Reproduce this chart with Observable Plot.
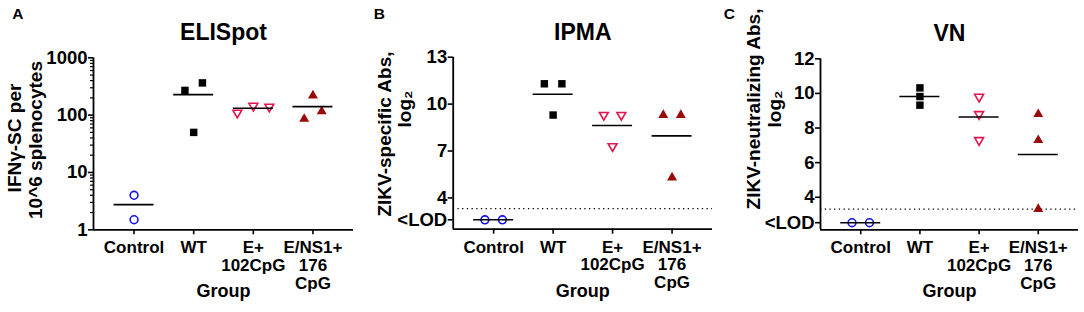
<!DOCTYPE html>
<html><head><meta charset="utf-8">
<script src="https://cdn.jsdelivr.net/npm/d3@7"></script>
<script src="https://cdn.jsdelivr.net/npm/@observablehq/plot@0.6"></script>
<style>
html,body{margin:0;padding:0;background:#fff;}
#chart{display:flex;width:1084px;height:312px;overflow:hidden;}
.panel{position:relative;height:312px;}
.panel svg{display:block;}
#chart svg text{font-family:"Liberation Sans",Arial,Helvetica,sans-serif;font-weight:700;}
.ylab{position:absolute;white-space:nowrap;font-family:"Liberation Sans",Arial,Helvetica,sans-serif;
  font-weight:700;font-size:19px;line-height:19px;color:#000;transform-origin:0 0;
  transform:rotate(-90deg) translate(-50%,-16px);}
</style></head><body><div id="chart"></div>
<script>
// ---- categories / tick labels ----
const groupLabels = ["Control", "WT", "E+\n102CpG", "E/NS1+\n176\nCpG"];
const panelLetters = ["A", "B", "C"];
const panelTitles = ["ELISpot", "IPMA", "VN"];
const yLabelA = ["IFN\u03b3-SC per", "10^6 splenocytes"];
const yLabelB = ["ZIKV-specific Abs,", "log\u2082"];
const yLabelC = ["ZIKV-neutralizing Abs,", "log\u2082"];
const xLabel = "Group";

// ---- A: ELISpot (log scale) ----
const elispotTicks = [1, 10, 100, 1000];
const elispotControl = [4.0, 1.5];
const elispotWT = [270, 365, 50];
const elispotE = [110, 145, 140];
const elispotENS1 = [86, 220, 116];

// ---- B: IPMA (log2 titres) ----
const ipmaTicks = [4, 7, 10, 13];
const ipmaLodPos = 2.6;      // "<LOD" tick position
const ipmaLod = 3.32;        // dotted limit of detection
const ipmaControl = [2.6, 2.6];
const ipmaWT = [11.3, 11.3, 9.3];
const ipmaE = [9.3, 9.3, 7.3];
const ipmaENS1 = [9.3, 9.3, 5.3];

// ---- C: VN (log2 titres) ----
const vnTicks = [4, 6, 8, 10, 12];
const vnLodPos = 2.53;
const vnLod = 3.32;
const vnControl = [2.53, 2.53];
const vnWT = [10.32, 9.82, 9.32];
const vnE = [9.8, 8.8, 7.3];
const vnENS1 = [8.8, 7.3, 3.32];

// ---- styling ----
const H = 312;
const XDOM = [-0.68, 3.68];
const blue = "#1414ee", pink = "#e3164c", dred = "#990a0a";
const triDown = {
  draw(ctx, size) {
    const y = -Math.sqrt(size / (3 * Math.sqrt(3)));
    ctx.moveTo(0, -2 * y);
    ctx.lineTo(-Math.sqrt(3) * y, y);
    ctx.lineTo(Math.sqrt(3) * y, y);
    ctx.closePath();
  }
};
const groupStyles = [
  {symbol: "circle", fill: "none", stroke: blue, r: 3.9, strokeWidth: 1.6},
  {symbol: "square", fill: "black", stroke: "none", r: 4.2},
  {symbol: triDown, fill: "none", stroke: pink, r: 3.3, strokeWidth: 1.6},
  {symbol: "triangle", fill: dred, stroke: "none", r: 3.7}
];

function makePanel(cfg) {
  const {width, ml, mr, mt, mb, ytype, ydomain, series, ticks, tickFormat, minor, lod,
         letter, title, ylines} = cfg;
  const frameW = width - ml - mr;
  const step = frameW / (XDOM[1] - XDOM[0]);
  const ypx = (ytype === "log" ? d3.scaleLog() : d3.scaleLinear()).domain(ydomain).range([H - mb, mt]);
  // rows + GraphPad-like horizontal spreading of overlapping points
  const rows = [];
  series.forEach((vals, g) => {
    const pts = vals.map((v, k) => ({g, v, k, py: ypx(v), off: 0}));
    const order = pts.slice().sort((a, b) => a.py - b.py);
    const clusters = [];
    order.forEach((p, i) => {
      if (i > 0 && Math.abs(p.py - order[i - 1].py) < 8.2) clusters[clusters.length - 1].push(p);
      else clusters.push([p]);
    });
    clusters.forEach(c => {
      c.sort((a, b) => a.k - b.k);
      const sp = c.length === 2 ? 17.5 : 16;
      c.forEach((p, i) => p.off = (i - (c.length - 1) / 2) * sp);
    });
    pts.forEach(p => rows.push({...p, x: g + p.off / step}));
  });
  const means = series.map((vals, g) => ({g, mean: d3.mean(vals)}));
  const hw = 20 / step;
  const marks = [];
  if (minor) marks.push(Plot.axisY(minor, {tickSize: 3, tickFormat: () => "", label: null, strokeWidth: 1.2}));
  marks.push(Plot.axisY(ticks, {tickSize: 5, tickPadding: 1, tickFormat, label: null, strokeWidth: 1.6, fontSize: 18.5}));
  marks.push(Plot.axisX([0, 1, 2, 3], {tickSize: 5, tickPadding: 6, tickFormat: i => groupLabels[i],
    label: null, strokeWidth: 1.6, fontSize: 17, lineHeight: 1.04}));
  if (lod != null) marks.push(Plot.ruleY([lod], {stroke: "black", strokeWidth: 1.3, strokeDasharray: "1.3,3.4"}));
  marks.push(Plot.ruleY([ydomain[0]], {stroke: "black", strokeWidth: 1.8}));
  marks.push(Plot.ruleX([XDOM[0]], {stroke: "black", strokeWidth: 1.8}));
  groupStyles.forEach((s, g) => {
    marks.push(Plot.dot(rows.filter(d => d.g === g), {x: "x", y: "v", ...s}));
  });
  marks.push(Plot.ruleY(means, {y: "mean", x1: d => d.g - hw, x2: d => d.g + hw, stroke: "black", strokeWidth: 1.6}));
  // texts
  marks.push(Plot.text([title], {frameAnchor: "top", dy: -17.5, lineAnchor: "bottom", fontSize: 23}));
  marks.push(Plot.text([letter], {frameAnchor: "top-left", textAnchor: "start", lineAnchor: "bottom",
    dx: cfg.letterX - ml, dy: 18.5 - mt, fontSize: 15.5}));
  marks.push(Plot.text([xLabel], {frameAnchor: "bottom", lineAnchor: "bottom", dy: 296 - (H - mb), fontSize: 18}));
  const svg = Plot.plot({
    width, height: H, marginLeft: ml, marginRight: mr, marginTop: mt, marginBottom: mb,
    x: {type: "linear", domain: XDOM},
    y: {type: ytype, domain: ydomain},
    style: {fontFamily: "'Liberation Sans', Arial, sans-serif", fontWeight: "bold", fontSize: "17px",
      color: "black", background: "white", overflow: "visible"},
    marks
  });
  const wrap = document.createElement("div");
  wrap.className = "panel";
  wrap.style.width = width + "px";
  wrap.append(svg);
  // rotated two-line axis title (baseline x, centre y in panel pixels)
  ylines.forEach(l => {
    const d = document.createElement("div");
    d.className = "ylab";
    d.textContent = l.text;
    d.style.left = l.bx + "px";
    d.style.top = l.cy + "px";
    wrap.append(d);
  });
  return wrap;
}

const minorLog = [];
[1, 10, 100].forEach(d => { for (let k = 2; k <= 9; k++) minorLog.push(d * k); });

const chart = document.getElementById("chart");
chart.append(makePanel({
  width: 360, ml: 93, mr: 7, mt: 57.3, mb: H - 229.3, ytype: "log", ydomain: [1, 1000],
  series: [elispotControl, elispotWT, elispotE, elispotENS1],
  ticks: elispotTicks, tickFormat: d => String(d), minor: minorLog, lod: null,
  letter: panelLetters[0], letterX: 11.7, title: panelTitles[0],
  ylines: [{text: yLabelA[0], bx: 21, cy: 138}, {text: yLabelA[1], bx: 42, cy: 140}]
}));
chart.append(makePanel({
  width: 360, ml: 92.7, mr: 8, mt: 56.7, mb: H - 228.7, ytype: "linear", ydomain: [2, 13],
  series: [ipmaControl, ipmaWT, ipmaE, ipmaENS1],
  ticks: [ipmaLodPos, ...ipmaTicks], tickFormat: d => d === ipmaLodPos ? "<LOD" : String(d), minor: null, lod: ipmaLod,
  letter: panelLetters[1], letterX: 13.3, title: panelTitles[1],
  ylines: [{text: yLabelB[0], bx: 30.5, cy: 134}, {text: yLabelB[1], bx: 51, cy: 109}]
}));
chart.append(makePanel({
  width: 364, ml: 100, mr: 6, mt: 58.3, mb: H - 229.3, ytype: "linear", ydomain: [2.12, 12],
  series: [vnControl, vnWT, vnE, vnENS1],
  ticks: [vnLodPos, ...vnTicks], tickFormat: d => d === vnLodPos ? "<LOD" : String(d), minor: null, lod: vnLod,
  letter: panelLetters[2], letterX: 3.3, title: panelTitles[2],
  ylines: [{text: yLabelC[0], bx: 40, cy: 109}, {text: yLabelC[1], bx: 61, cy: 109}]
}));
</script></body></html>
